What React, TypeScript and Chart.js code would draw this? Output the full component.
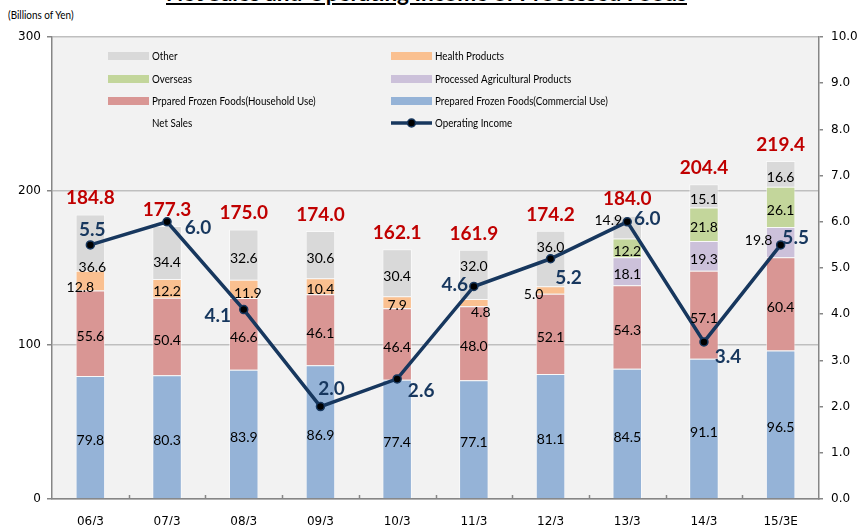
import React, { useEffect, useRef } from 'react';
import { Chart, registerables } from 'chart.js';

Chart.register(...registerables);

// ---------- data ----------
const categories = ['06/3', '07/3', '08/3', '09/3', '10/3', '11/3', '12/3', '13/3', '14/3', '15/3E'];
const commercialUse = [79.8, 80.3, 83.9, 86.9, 77.4, 77.1, 81.1, 84.5, 91.1, 96.5];
const householdUse = [55.6, 50.4, 46.6, 46.1, 46.4, 48.0, 52.1, 54.3, 57.1, 60.4];
const processedAgri = [null, null, null, null, null, null, null, 18.1, 19.3, 19.8];
const overseas = [null, null, null, null, null, null, null, 12.2, 21.8, 26.1];
const healthProducts = [12.8, 12.2, 11.9, 10.4, 7.9, 4.8, 5.0, null, null, null];
const other = [36.6, 34.4, 32.6, 30.6, 30.4, 32.0, 36.0, 14.9, 15.1, 16.6];
const netSales = [184.8, 177.3, 175.0, 174.0, 162.1, 161.9, 174.2, 184.0, 204.4, 219.4];
const operatingIncome = [5.5, 6.0, 4.1, 2.0, 2.6, 4.6, 5.2, 6.0, 3.4, 5.5];

const legendLabels = [
  'Other', 'Health Products',
  'Overseas', 'Processed Agricultural Products',
  'Prpared Frozen Foods(Household Use)', 'Prepared Frozen Foods(Commercial Use)',
  'Net Sales', 'Operating Income',
];

// ---------- styles ----------
const C = {
  other: '#d9d9d9',
  health: '#fac090',
  overseas: '#c3d69b',
  agri: '#ccc1da',
  household: '#d99694',
  commercial: '#95b3d7',
  line: '#17375e',
  sales: '#c00000',
  axis: '#868686',
  grid: '#bfbfbf',
  plotBg: '#f2f2f2',
};

const LABEL = 'Lato, "Open Sans", sans-serif';
const TICK = '"DejaVu Sans", Verdana, sans-serif';

// label offsets (dx, dy) relative to segment centre
const segOffsets: Record<string, Record<number, [number, number]>> = {
  other: { 0: [2, 24], 1: [0, 10], 5: [0, -8], 6: [0, -11], 7: [-19, -7] },
  health: { 0: [-10, 6], 2: [4, 4], 5: [7, 9], 6: [-17, 4] },
  agri: { 9: [-22, -2] },
  overseas: {},
  household: {},
  commercial: {},
};
const oiOffsets: [number, number][] = [
  [2, -16], [31, 5], [-26, 6], [11, -18], [24, 11],
  [-19, -2], [18, 18], [20, -4], [24, 14], [15, -8],
];

const legendSwatches = [
  { color: C.other }, { color: C.health },
  { color: C.overseas }, { color: C.agri },
  { color: C.household }, { color: C.commercial },
  { color: null }, { color: 'line' },
];

function drawText(ctx: CanvasRenderingContext2D, text: string, cx: number, cy: number, size: number, weight: string, color: string, family: string) {
  ctx.font = `${weight} ${size}px ${family}`;
  ctx.fillStyle = color;
  ctx.textAlign = 'center';
  ctx.textBaseline = 'alphabetic';
  ctx.fillText(text, cx, cy + size * 0.36);
}

const customPlugin = {
  id: 'customDecor',
  beforeDraw(chart: any) {
    const { ctx, chartArea: a } = chart;
    ctx.save();
    ctx.fillStyle = C.plotBg;
    ctx.fillRect(a.left, a.top, a.right - a.left, a.bottom - a.top);
    ctx.restore();
  },
  beforeDatasetsDraw(chart: any) {
    const { ctx, chartArea: a, scales } = chart;
    ctx.save();
    // minor tick marks on x axis between categories
    const xs = scales.x;
    ctx.strokeStyle = C.axis;
    ctx.lineWidth = 1.5;
    for (let i = 1; i < categories.length; i++) {
      const x = Math.round((xs.getPixelForValue(i - 1) + xs.getPixelForValue(i)) / 2) + 0.5;
      ctx.beginPath();
      ctx.moveTo(x, a.bottom);
      ctx.lineTo(x, a.bottom - 4);
      ctx.stroke();
    }
    // legend
    const colX = [108, 391];
    const rowY = [56, 79, 101, 123];
    for (let k = 0; k < legendLabels.length; k++) {
      const col = k % 2;
      const row = Math.floor(k / 2);
      const sx = colX[col];
      const sy = rowY[row];
      const sw = legendSwatches[k].color;
      if (sw === 'line') {
        ctx.strokeStyle = C.line;
        ctx.lineWidth = 3.5;
        ctx.beginPath();
        ctx.moveTo(sx, sy);
        ctx.lineTo(sx + 41, sy);
        ctx.stroke();
        ctx.beginPath();
        ctx.fillStyle = '#000';
        ctx.arc(sx + 20.5, sy, 4, 0, Math.PI * 2);
        ctx.fill();
        ctx.lineWidth = 1.5;
        ctx.stroke();
      } else if (sw) {
        ctx.fillStyle = sw;
        ctx.fillRect(sx, sy - 4, 41, 8);
      }
      ctx.save();
      ctx.translate(sx + 44, sy + 4);
      ctx.scale(0.85, 1);
      ctx.font = `11.5px ${LABEL}`;
      ctx.fillStyle = '#000';
      ctx.textAlign = 'left';
      ctx.textBaseline = 'alphabetic';
      ctx.fillText(legendLabels[k], 0, 0);
      ctx.restore();
    }
    ctx.restore();
  },
  afterDatasetsDraw(chart: any) {
    const { ctx, scales } = chart;
    ctx.save();
    // segment labels
    chart.data.datasets.forEach((ds: any, di: number) => {
      if (ds.type !== 'bar') return;
      const meta = chart.getDatasetMeta(di);
      const offs = segOffsets[ds.key] || {};
      meta.data.forEach((el: any, i: number) => {
        const v = ds.data[i];
        if (v === null || v === undefined) return;
        const [dx, dy] = offs[i] || [0, 3];
        const cy = (el.y + el.base) / 2;
        drawText(ctx, v.toFixed(1), el.x + dx, cy + dy, 14, 'normal', '#000', LABEL);
      });
    });
    // net sales labels
    netSales.forEach((v, i) => {
      const x = scales.x.getPixelForValue(i);
      const y = scales.y.getPixelForValue(v);
      drawText(ctx, v.toFixed(1), x, y - 17, 19, 'bold', C.sales, LABEL);
    });
    // operating income labels
    const lineIdx = chart.data.datasets.findIndex((d: any) => d.type === 'line');
    const lmeta = chart.getDatasetMeta(lineIdx);
    lmeta.data.forEach((pt: any, i: number) => {
      const [dx, dy] = oiOffsets[i];
      drawText(ctx, operatingIncome[i].toFixed(1), pt.x + dx, pt.y + dy, 19, 'bold', C.line, LABEL);
    });
    ctx.restore();
  },
};

export default function App() {
  const ref = useRef<HTMLCanvasElement | null>(null);

  useEffect(() => {
    if (!ref.current) return;
    const barCommon = {
      type: 'bar' as const,
      yAxisID: 'y',
      stack: 'sales',
      order: 1,
      borderWidth: 1,
      borderColor: 'rgba(255,255,255,0.55)',
      categoryPercentage: 1,
      barPercentage: 0.385,
    };
    const chart = new Chart(ref.current, {
      data: {
        labels: categories,
        datasets: [
          {
            type: 'line',
            label: 'Operating Income',
            data: operatingIncome,
            yAxisID: 'y1',
            order: 0,
            borderColor: C.line,
            borderWidth: 3.5,
            pointRadius: 4,
            pointBackgroundColor: '#000',
            pointBorderColor: C.line,
            pointBorderWidth: 1.5,
            tension: 0,
          } as any,
          { ...barCommon, key: 'commercial', label: 'Prepared Frozen Foods(Commercial Use)', data: commercialUse, backgroundColor: C.commercial } as any,
          { ...barCommon, key: 'household', label: 'Prpared Frozen Foods(Household Use)', data: householdUse, backgroundColor: C.household } as any,
          { ...barCommon, key: 'agri', label: 'Processed Agricultural Products', data: processedAgri, backgroundColor: C.agri } as any,
          { ...barCommon, key: 'overseas', label: 'Overseas', data: overseas, backgroundColor: C.overseas } as any,
          { ...barCommon, key: 'health', label: 'Health Products', data: healthProducts, backgroundColor: C.health } as any,
          { ...barCommon, key: 'other', label: 'Other', data: other, backgroundColor: C.other } as any,
        ],
      },
      options: {
        animation: false,
        responsive: false,
        devicePixelRatio: 1,
        layout: { padding: { top: 37, left: 0, right: 0, bottom: 0 } },
        plugins: { legend: { display: false }, tooltip: { enabled: false }, title: { display: false } },
        scales: {
          x: {
            stacked: true,
            grid: { display: false },
            border: { display: true, color: C.axis, width: 1.5 },
            ticks: { font: { family: TICK, size: 12 }, color: '#000', padding: 8 },
            afterFit: (s: any) => { s.height = 26; },
          },
          y: {
            stacked: true,
            position: 'left',
            min: 0,
            max: 300,
            ticks: { stepSize: 100, font: { family: TICK, size: 12 }, color: '#000', padding: 6 },
            grid: { color: C.grid, lineWidth: 1.5, tickColor: C.axis, tickLength: 5 },
            border: { display: true, color: C.axis, width: 1.5 },
            afterFit: (s: any) => { s.width = 52; },
          },
          y1: {
            position: 'right',
            min: 0,
            max: 10,
            ticks: {
              stepSize: 1,
              font: { family: TICK, size: 12 },
              color: '#000',
              padding: 8,
              callback: (v: any) => Number(v).toFixed(1),
            },
            grid: { drawOnChartArea: false, tickColor: C.axis, tickLength: 4, lineWidth: 1.5 },
            border: { display: true, color: C.axis, width: 1.5 },
            afterFit: (s: any) => { s.width = 40; },
          },
        },
      } as any,
      plugins: [customPlugin],
    });
    return () => chart.destroy();
  }, []);

  return (
    <div style={{ position: 'absolute', left: 0, top: 0, width: 859, height: 525, background: '#ffffff', overflow: 'hidden' }}>
      <div
        style={{
          position: 'absolute', left: 0, width: 853, top: -20, textAlign: 'center',
          font: `bold 22.5px ${LABEL}`, textDecoration: 'underline', color: '#000', lineHeight: '26px',
        }}
      >
        Net Sales and Operating Income of Processed Foods
      </div>
      <div
        style={{
          position: 'absolute', left: 8, top: 8, font: `11px ${LABEL}`, color: '#000', lineHeight: '14px',
          transform: 'scaleX(0.9)', transformOrigin: 'left center', whiteSpace: 'nowrap',
        }}
      >
        (Billions of Yen)
      </div>
      <canvas ref={ref} width={859} height={525} style={{ position: 'absolute', left: 0, top: 0, width: 859, height: 525 }} />
    </div>
  );
}
